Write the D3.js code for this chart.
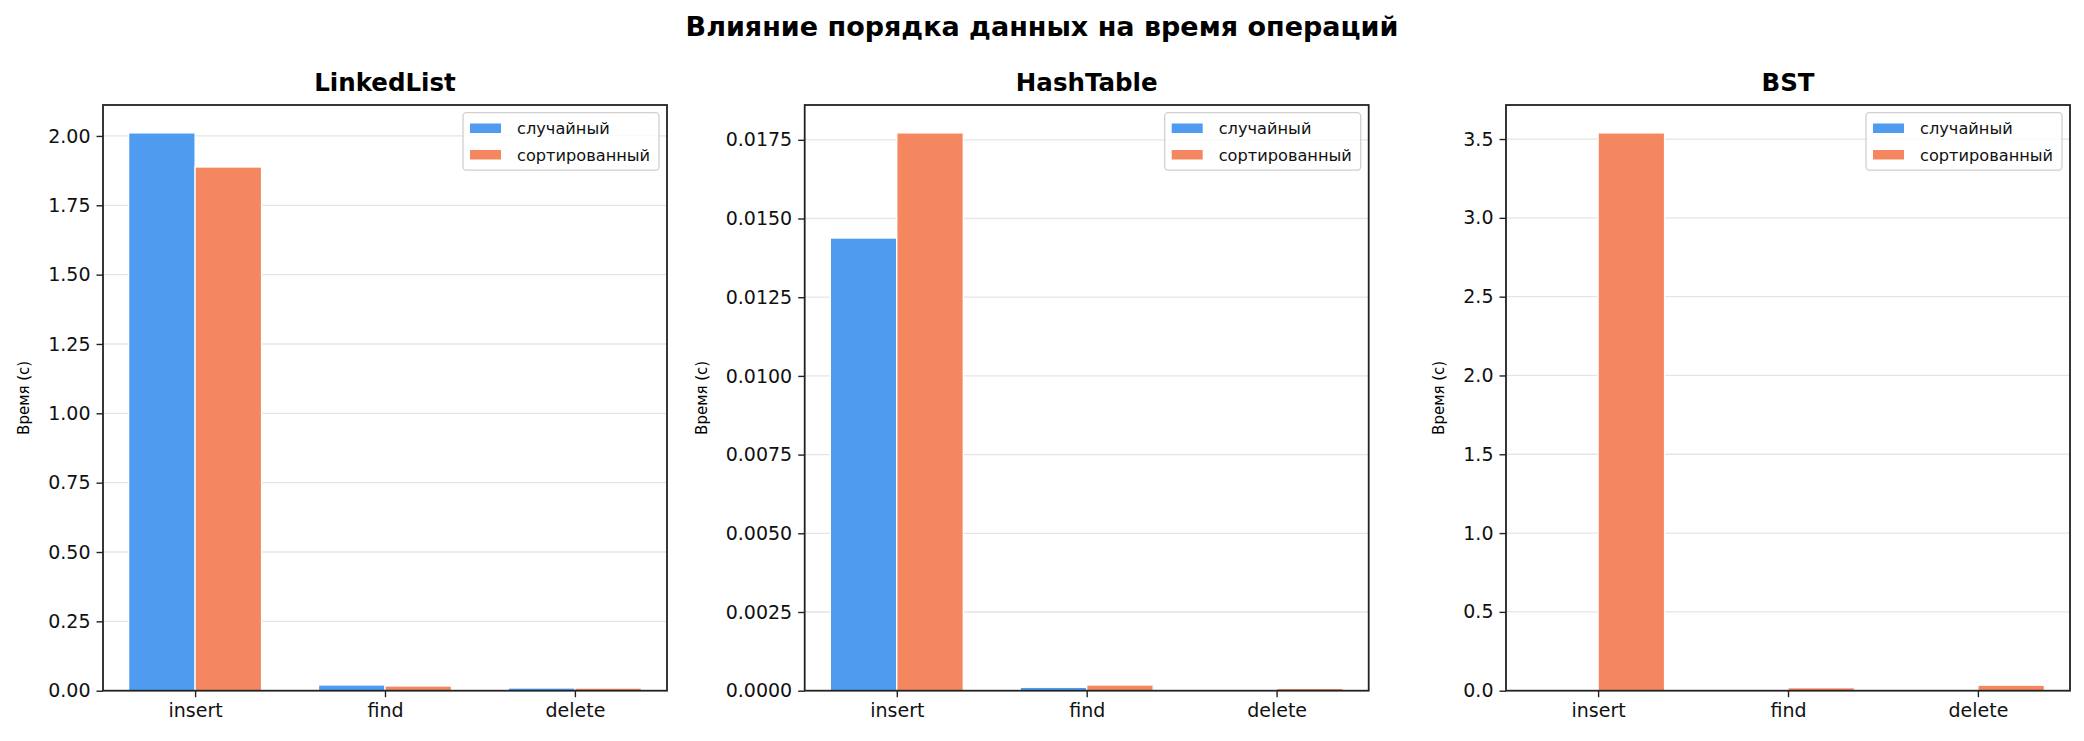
<!DOCTYPE html>
<html>
<head>
<meta charset="utf-8">
<script src="https://cdn.jsdelivr.net/npm/d3@7"></script>
<style>
  body { margin: 0; background: #fff; }
  svg { display: block; font-family: "DejaVu Sans", sans-serif; }
</style>
</head>
<body>
<svg id="chart" width="2084" height="741"></svg>
<script>
// data
var structures = ["LinkedList", "HashTable", "BST"]
var operations = ["insert", "find", "delete"]
var seriesNames = ["случайный", "сортированный"]
var randomTimes = [
  [2.011, 0.0206, 0.0098],
  [0.01438, 0.000108, 0.000004],
  [0.0025, 0.0008, 0.0009]
]
var sortedTimes = [
  [1.888, 0.0170, 0.0095],
  [0.01772, 0.000181, 0.000076],
  [3.539, 0.019, 0.035]
]
var tickValues = [
  [0, 0.25, 0.5, 0.75, 1.0, 1.25, 1.5, 1.75, 2.0],
  [0, 0.0025, 0.005, 0.0075, 0.01, 0.0125, 0.015, 0.0175],
  [0, 0.5, 1.0, 1.5, 2.0, 2.5, 3.0, 3.5]
]
var tickFormats = [".2f", ".4f", ".1f"]

var colors = ["#4e9bf0", "#f4875f"]
var barWidth = 0.35

var svg = d3.select("#chart")
svg.append("rect").attr("width", 2084).attr("height", 741).attr("fill", "#fff")

svg.append("text")
   .attr("x", 1042)
   .attr("y", 36)
   .attr("text-anchor", "middle")
   .attr("font-size", "27px")
   .attr("font-weight", "bold")
   .text("Влияние порядка данных на время операций")

var panelLeft = [103, 804.7, 1506],
    panelW = 564,
    axTop = 105,
    axBottom = 690.7

structures.forEach(function(name, p) {
  var rnd = randomTimes[p], srt = sortedTimes[p]
  var maxV = d3.max(rnd.concat(srt))
  var h = axBottom - axTop

  var x = d3.scaleLinear().domain([-0.485, 2.485]).range([0, panelW])
  var y = d3.scaleLinear().domain([0, maxV * 1.05]).range([h, 0])

  var g = svg.append("g").attr("transform", "translate(" + panelLeft[p] + "," + axTop + ")")

  // grid
  g.selectAll(".grid")
   .data(tickValues[p])
   .enter().append("line")
   .attr("x1", 0).attr("x2", panelW)
   .attr("y1", function(d) { return y(d) }).attr("y2", function(d) { return y(d) })
   .attr("stroke", "#e5e5e5").attr("stroke-width", 1.3)

  var bars = [rnd, srt]
  bars.forEach(function(vals, s) {
    g.selectAll(".bar" + s)
     .data(vals)
     .enter().append("rect")
     .attr("fill", colors[s])
     .attr("stroke", "#fff")
     .attr("stroke-width", 1.3)
     .attr("x", function(d, i) { return x(i - barWidth + s * barWidth) })
     .attr("width", x(barWidth) - x(0))
     .attr("y", function(d) { return y(d) })
     .attr("height", function(d) { return h - y(d) })
  })

  var yAxis = g.append("g")
   .call(d3.axisLeft(y).tickValues(tickValues[p]).tickFormat(d3.format(tickFormats[p])).tickSize(6.5).tickPadding(6))
  var xAxis = g.append("g")
   .attr("transform", "translate(0," + h + ")")
   .call(d3.axisBottom(x).tickValues([0, 1, 2]).tickFormat(function(d) { return operations[d] }).tickSize(6.5).tickPadding(6))

  ;[yAxis, xAxis].forEach(function(a) {
    a.select(".domain").remove()
    a.selectAll("line").attr("stroke", "#222").attr("stroke-width", 1.4)
    a.selectAll("text").attr("font-size", "19px").attr("fill", "#111").attr("font-family", "DejaVu Sans")
  })

  // widest y tick label, so the axis title sits just left of it
  var maxLabel = 0
  yAxis.selectAll("text").each(function() { maxLabel = Math.max(maxLabel, this.getBBox().width) })

  // frame
  g.append("rect")
   .attr("width", panelW).attr("height", h)
   .attr("fill", "none").attr("stroke", "#222").attr("stroke-width", 1.8)

  g.append("text")
   .attr("x", panelW / 2).attr("y", -14)
   .attr("text-anchor", "middle")
   .attr("font-size", "24.5px").attr("font-weight", "bold")
   .text(name)

  g.append("text")
   .attr("transform", "translate(" + (-(12.5 + maxLabel + 19)) + "," + (h / 2) + ") rotate(-90)")
   .attr("text-anchor", "middle")
   .attr("font-size", "15px")
   .text("Время (с)")

  // legend
  var lw = 196, lh = 57.5
  var lg = g.append("g").attr("transform", "translate(" + (panelW - 8 - lw) + ",7.7)")
  lg.append("rect")
    .attr("width", lw).attr("height", lh).attr("rx", 3.5)
    .attr("fill", "#fff").attr("fill-opacity", 0.8)
    .attr("stroke", "#d0d0d0").attr("stroke-width", 1.3)
  seriesNames.forEach(function(sn, s) {
    var cy = 15.5 + s * 26.5
    lg.append("rect")
      .attr("x", 7).attr("y", cy - 4.7)
      .attr("width", 31).attr("height", 9.5)
      .attr("fill", colors[s])
    lg.append("text")
      .attr("x", 54).attr("y", cy + 6)
      .attr("font-size", "16.2px")
      .attr("fill", "#111")
      .text(sn)
  })
})
</script>
</body>
</html>
